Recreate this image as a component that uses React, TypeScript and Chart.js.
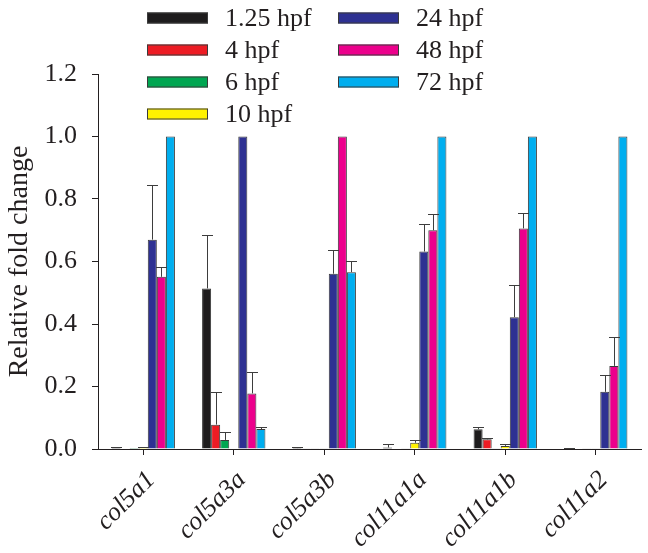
import React, { useEffect, useRef } from "react";
import { Chart, registerables } from "chart.js";

Chart.register(...registerables);

const categories = ["col5a1", "col5a3a", "col5a3b", "col11a1a", "col11a1b", "col11a2"];
const seriesLabels = ["1.25 hpf", "4 hpf", "6 hpf", "10 hpf", "24 hpf", "48 hpf", "72 hpf"];
const seriesColors = ["#1e1c1d", "#ed1c24", "#00a651", "#fff200", "#2e3192", "#ec008c", "#00aeef"];

const hpf1_25 = [0.004, 0.514, 0.003, 0.005, 0.063, 0.003];
const hpf4 = [0.002, 0.078, 0.001, 0.002, 0.031, 0.002];
const hpf6 = [0.003, 0.029, 0.001, 0.001, 0.001, 0.001];
const hpf10 = [0.005, 0.002, 0.001, 0.02, 0.01, 0.001];
const hpf24 = [0.67, 1.0, 0.561, 0.632, 0.422, 0.183];
const hpf48 = [0.551, 0.178, 1.0, 0.7, 0.706, 0.266];
const hpf72 = [1.0, 0.064, 0.566, 1.0, 1.0, 1.0];

const err1_25 = [0.001, 0.172, 0.004, 0.012, 0.008, 0.001];
const err4 = [0, 0.105, 0, 0, 0.004, 0];
const err6 = [0, 0.025, 0, 0, 0, 0];
const err10 = [0.001, 0, 0, 0.01, 0.007, 0];
const err24 = [0.176, 0, 0.076, 0.088, 0.103, 0.055];
const err48 = [0.03, 0.067, 0, 0.053, 0.05, 0.094];
const err72 = [0, 0.008, 0.036, 0, 0, 0];

const yTicks = [0, 0.2, 0.4, 0.6, 0.8, 1.0, 1.2];

const seriesValues = [hpf1_25, hpf4, hpf6, hpf10, hpf24, hpf48, hpf72];
const seriesErrors = [err1_25, err4, err6, err10, err24, err48, err72];

const FONT = "'Liberation Serif', 'Times New Roman', serif";
const INK = "#231f20";

const errorBarPlugin = {
  id: "errorBars",
  afterDatasetsDraw(chart: any) {
    const ctx = chart.ctx;
    const yScale = chart.scales.y;
    ctx.save();
    ctx.strokeStyle = "#3d3d3d";
    ctx.lineWidth = 1;
    chart.data.datasets.forEach((ds: any, i: number) => {
      const meta = chart.getDatasetMeta(i);
      const errs = seriesErrors[i];
      meta.data.forEach((bar: any, j: number) => {
        const e = errs[j];
        if (!e) return;
        const v = ds.data[j];
        const yTop = Math.round(yScale.getPixelForValue(v + e)) + 0.5;
        const yBar = bar.y;
        const x = Math.round(bar.x) + 0.5;
        const half = 5.5;
        ctx.beginPath();
        ctx.moveTo(x, yBar);
        ctx.lineTo(x, yTop);
        ctx.moveTo(x - half, yTop);
        ctx.lineTo(x + half, yTop);
        ctx.stroke();
      });
    });
    ctx.restore();
  },
};

const legendPlugin = {
  id: "customLegend",
  afterDraw(chart: any) {
    const ctx = chart.ctx;
    ctx.save();
    ctx.font = `26px ${FONT}`;
    ctx.textBaseline = "middle";
    ctx.textAlign = "left";
    const colX = [147, 338];
    const rowY0 = 18;
    const rowGap = 32;
    seriesLabels.forEach((label, i) => {
      const col = i < 4 ? 0 : 1;
      const row = i < 4 ? i : i - 4;
      const x = colX[col];
      const y = rowY0 + row * rowGap;
      ctx.fillStyle = seriesColors[i];
      ctx.fillRect(x, y - 5.5, 61, 11);
      ctx.strokeStyle = "#3a3a3a";
      ctx.lineWidth = 1;
      ctx.strokeRect(x + 0.5, y - 5, 60, 10);
      ctx.fillStyle = INK;
      ctx.fillText(label, x + 78, y + 1);
    });
    ctx.restore();
  },
};

export default function App() {
  const canvasRef = useRef<HTMLCanvasElement | null>(null);

  useEffect(() => {
    if (!canvasRef.current) return;
    const chart = new Chart(canvasRef.current, {
      type: "bar",
      data: {
        labels: categories,
        datasets: seriesLabels.map((label, i) => ({
          label,
          data: seriesValues[i],
          backgroundColor: seriesColors[i],
          borderColor: "#3a3a3a",
          borderWidth: 1,
          borderSkipped: "bottom",
          categoryPercentage: 0.7,
          barPercentage: 1.0,
        })),
      },
      options: {
        responsive: false,
        animation: false,
        layout: { padding: { top: 74, right: 7, left: 0, bottom: 0 } },
        plugins: {
          legend: { display: false },
          tooltip: { enabled: false },
        },
        scales: {
          x: {
            grid: {
              display: true,
              drawOnChartArea: false,
              drawTicks: true,
              tickLength: 6,
              offset: false,
              color: INK,
            },
            border: { display: true, color: INK, width: 1 },
            ticks: {
              autoSkip: false,
              minRotation: 45,
              maxRotation: 45,
              padding: 10,
              labelOffset: 8,
              color: INK,
              font: { family: FONT, size: 26, style: "italic" },
            },
            afterFit: (scale: any) => {
              scale.height = 104;
            },
          },
          y: {
            min: 0,
            max: 1.2,
            afterBuildTicks: (scale: any) => {
              scale.ticks = yTicks.map((v) => ({ value: v }));
            },
            grid: {
              display: true,
              drawOnChartArea: false,
              drawTicks: true,
              tickLength: 6,
              color: INK,
            },
            border: { display: true, color: INK, width: 1 },
            ticks: {
              padding: 15,
              color: INK,
              font: { family: FONT, size: 26 },
              callback: (v: any) => Number(v).toFixed(1),
            },
            title: {
              display: true,
              text: "Relative fold change",
              color: INK,
              font: { family: FONT, size: 28 },
              padding: { top: 3, bottom: 0 },
            },
            afterFit: (scale: any) => {
              scale.width = 98;
            },
          },
        },
      },
      plugins: [errorBarPlugin, legendPlugin],
    });
    return () => chart.destroy();
  }, []);

  return (
    <div style={{ position: "absolute", left: 0, top: 0, width: 648, height: 553, background: "#fff" }}>
      <canvas ref={canvasRef} width={648} height={553} style={{ display: "block" }} />
    </div>
  );
}
